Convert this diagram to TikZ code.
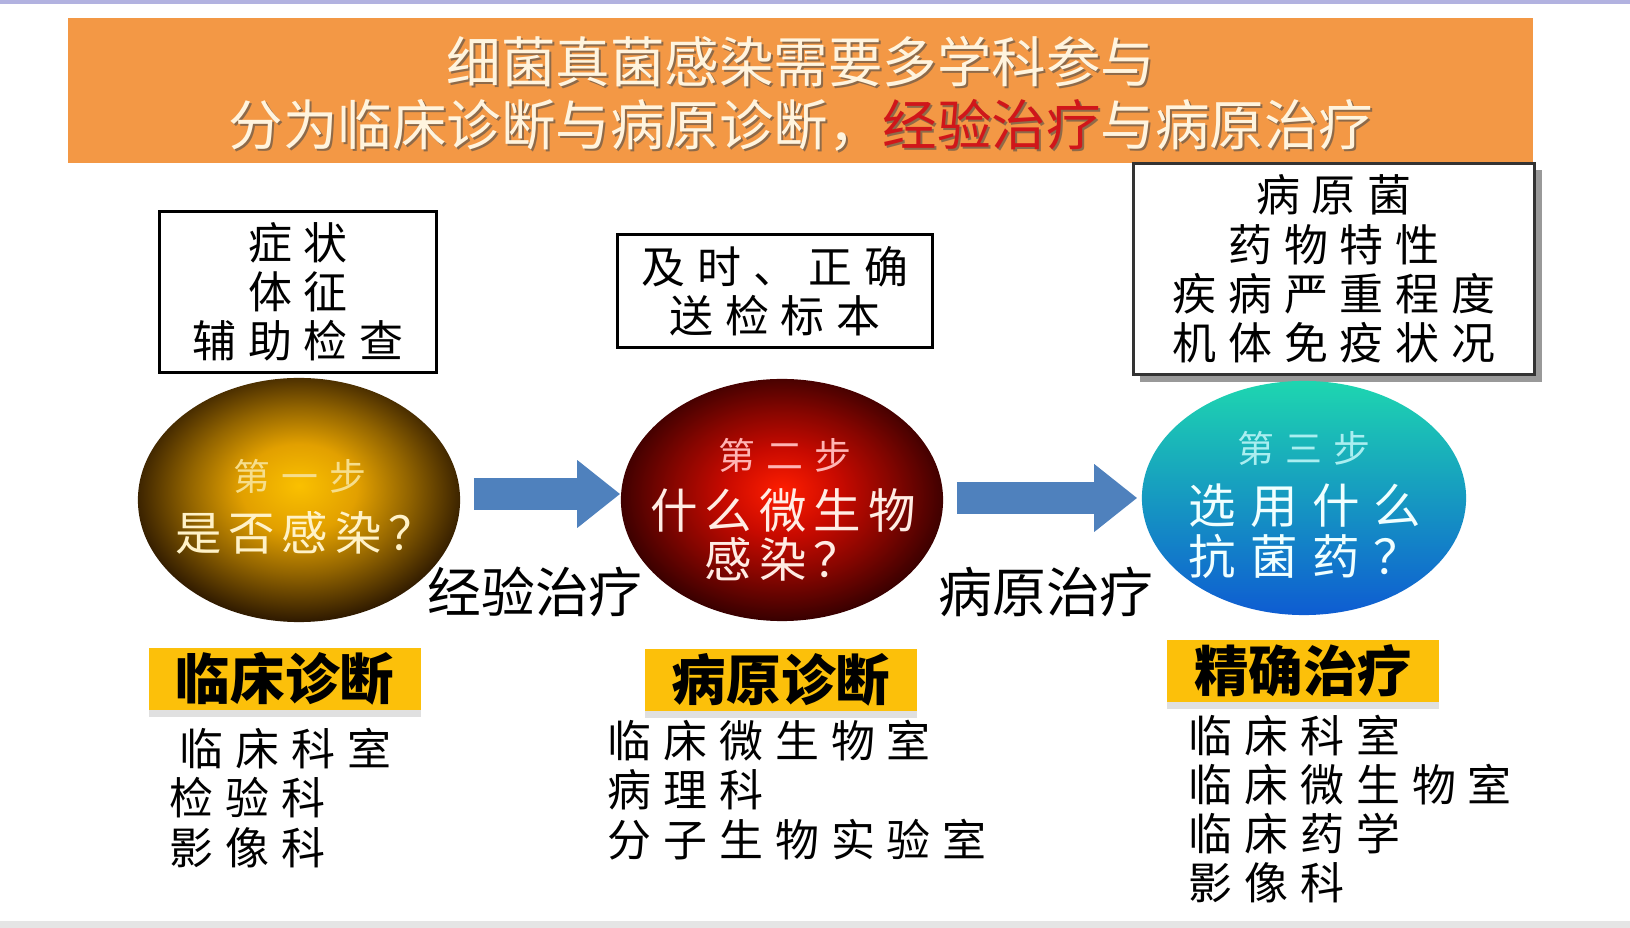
\documentclass[tikz,border=0pt]{standalone}
\usepackage{fontspec}
\setmainfont{Noto Sans CJK SC}
\newfontfamily\spaced[LetterSpace=27]{Noto Sans CJK SC}
\newfontfamily\stepwide[LetterSpace=15]{Noto Sans CJK SC}
\newfontfamily\stepsmall[LetterSpace=30]{Noto Sans CJK SC}
\usetikzlibrary{arrows.meta,calc,positioning,shapes.geometric,shadows}
\definecolor{bannerorange}{RGB}{243,152,69}
\definecolor{titlecream}{RGB}{255,244,222}
\definecolor{titlered}{RGB}{208,22,26}
\definecolor{tagyellow}{RGB}{252,192,10}
\definecolor{arrowblue}{RGB}{79,129,189}
\definecolor{goldcore}{RGB}{250,192,0}
\definecolor{goldmid}{RGB}{226,160,0}
\definecolor{golddark}{RGB}{50,28,0}
\definecolor{redcore}{RGB}{255,30,0}
\definecolor{redmid}{RGB}{200,10,0}
\definecolor{reddark}{RGB}{55,0,0}
\pgfdeclareradialshading{goldglow}{\pgfpoint{0bp}{3bp}}{color(0bp)=(goldcore); color(9bp)=(goldmid); color(17bp)=(goldmid!55!golddark); color(26bp)=(golddark); color(50bp)=(golddark)}
\pgfdeclareradialshading{redglow}{\pgfpoint{0bp}{2bp}}{color(0bp)=(redcore); color(9bp)=(redmid); color(17bp)=(redmid!55!reddark); color(26bp)=(reddark); color(50bp)=(reddark)}
\newcommand\tightlines{\lineskiplimit=-100pt\relax}

\begin{document}
\begin{tikzpicture}[x=0.01cm, y=-0.01cm,
  textbox/.style={draw=black, line width=0.8pt, fill=white, align=center, inner sep=0pt,
    font=\spaced\fontsize{12.5}{14}\selectfont},
  tag/.style={fill=tagyellow, minimum width=2.72cm, minimum height=0.62cm, inner sep=0pt,
    drop shadow={shadow xshift=0pt, shadow yshift=-2pt, fill=black, opacity=0.12},
    font=\bfseries\fontsize{15.5}{18}\selectfont},
  steptitle/.style={inner sep=1pt, font=\stepsmall\fontsize{10.5}{12}\selectfont},
  stepq/.style={inner sep=1pt, align=center, font=\stepwide\fontsize{13.5}{13.9}\selectfont\tightlines},
  deptlist/.style={anchor=west, align=left, inner sep=0pt, font=\spaced\fontsize{12.5}{14}\selectfont},
  flow/.style={draw=arrowblue, line width=0.31cm, -{Triangle[length=0.43cm, width=0.65cm]}}]
\useasboundingbox (0,0) rectangle (1630,928);
\fill[white] (0,0) rectangle (1630,928);
\fill[black!40!blue!30] (0,0) rectangle (1630,4);
\fill[black!10] (0,921) rectangle (1630,928);

% Banner with title
\fill[bannerorange] (68,18) rectangle (1533,163);
\node[font=\fontsize{15.5}{18}\selectfont, text=black!70, opacity=0.6] (t1s) at (803,64) {细菌真菌感染需要多学科参与};
\node[font=\fontsize{15.5}{18}\selectfont, text=titlecream] (t1) at (801,62) {细菌真菌感染需要多学科参与};
\node[font=\fontsize{15.5}{18}\selectfont, text=black!70, opacity=0.6] (t2s) at (803,127) {分为临床诊断与病原诊断，经验治疗与病原治疗};
\node[font=\fontsize{15.5}{18}\selectfont, text=titlecream] (t2) at (801,125) {分为临床诊断与病原诊断，\textcolor{titlered}{经验治疗}与病原治疗};

% Boxes above the steps
\node[textbox, minimum width=2.77cm, minimum height=1.61cm] (b1) at (298,292) {症状\\体征\\辅助检查};
\node[textbox, minimum width=3.15cm, minimum height=1.13cm] (b2) at (775,291) {及时、正确\\送检标本};
\node[textbox, draw=black!80, line width=1pt, minimum width=4.01cm, minimum height=2.11cm,
  drop shadow={shadow xshift=2pt, shadow yshift=-2pt, fill=black!40, opacity=1}] (b3) at (1334,269) {病原菌\\药物特性\\疾病严重程度\\机体免疫状况};

% Three steps
\node[ellipse, minimum width=3.22cm, minimum height=2.44cm, shading=goldglow] (s1) at (299,500) {};
\node[ellipse, minimum width=3.22cm, minimum height=2.42cm, shading=redglow] (s2) at (782,500) {};
\node[ellipse, minimum width=3.24cm, minimum height=2.34cm, top color={rgb,255:red,30;green,214;blue,176}, middle color={rgb,255:red,28;green,172;blue,226}, bottom color={rgb,255:red,14;green,92;blue,210}] (s3) at (1304,498) {};

\node[steptitle, text={rgb,255:red,246;green,222;blue,140}] (s1a) at (300,476) {第一步};
\node[stepq, font=\stepwide\fontsize{13.2}{13.9}\selectfont, text={rgb,255:red,255;green,242;blue,200}] (s1b) at (305,533) {是否感染？};
\node[steptitle, text={rgb,255:red,255;green,180;blue,180}] (s2a) at (785,455) {第二步};
\node[stepq, text={rgb,255:red,255;green,236;blue,228}] (s2b) at (783,535) {什么微生物\\感染？};
\node[steptitle, text={rgb,255:red,170;green,238;blue,240}] (s3a) at (1304,448) {第三步};
\node[stepq, font=\stepsmall\fontsize{13.5}{14.6}\selectfont\tightlines, text={rgb,255:red,240;green,255;blue,255}] (s3b) at (1305,531) {选用什么\\抗菌药？};

% Arrows between the steps
\draw[flow] ($(s1.east)+(13,-6)$) -- ($(s2.west)+(0,-6)$);
\draw[flow] ($(s2.east)+(13,-2)$) -- ($(s3.west)+(-4,0)$);
\node[font=\fontsize{15.3}{18}\selectfont] (e1) at (535,592) {经验治疗};
\node[font=\fontsize{15.3}{18}\selectfont] (e2) at (1046,592) {病原治疗};

% Tags and departments
\node[tag] (l1) at (285,679) {临床诊断};
\node[tag] (l2) at (781,680) {病原诊断};
\node[tag] (l3) at (1303,671) {精确治疗};

\node[deptlist] (d1) at (169,798) {\hspace*{0.1cm}临床科室\\检验科\\影像科};
\node[deptlist] (d2) at (607,790) {临床微生物室\\病理科\\分子生物实验室};
\node[deptlist] (d3) at (1188,809) {临床科室\\临床微生物室\\临床药学\\影像科};
\end{tikzpicture}
\end{document}
